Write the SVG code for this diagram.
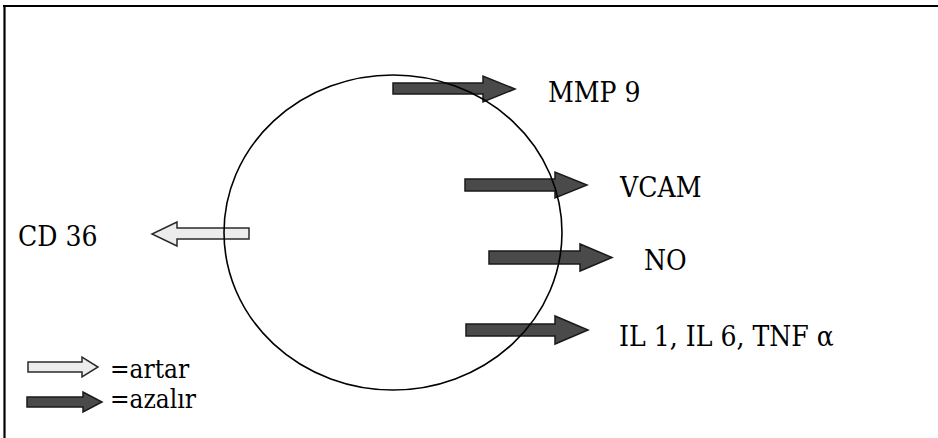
<svg xmlns="http://www.w3.org/2000/svg" width="938" height="438" viewBox="0 0 938 438">
<style>
text{font-family:"DejaVu Serif Condensed","DejaVu Serif",serif;font-stretch:condensed;font-size:28px;fill:#000}
.lg{font-size:26px}
.dark{fill:#4a4a4a;stroke:#1a1a1a;stroke-width:1.5}
.light{fill:#ececec;stroke:#2a2a2a;stroke-width:1.5}
.frame{stroke:#000;stroke-width:2.2;fill:none}
</style>
<rect width="938" height="438" fill="#fff"/>
<g id="frame">
<line class="frame" x1="3" y1="6" x2="938" y2="6"/>
<line class="frame" x1="4.5" y1="5" x2="4.5" y2="438"/>
</g>
<g id="connectors">
<polygon class="dark" points="393,83 483,83 483,76 515,89 483,102 483,94 393,94"/>
<polygon class="dark" points="465,179 555,179 555,172 587,185 555,198 555,191 465,191"/>
<polygon class="dark" points="489,251 580,251 580,244 612,257.5 580,271 580,264 489,264"/>
<polygon class="dark" points="466,324 555,324 555,316 588,330 555,344 555,336 466,336"/>
<polygon class="light" points="249,228 177,228 177,222 152,234 177,246 177,239 249,239"/>
</g>
<g id="cell">
<ellipse cx="393" cy="232.5" rx="169" ry="157.5" fill="none" stroke="#000" stroke-width="1.6"/>
</g>
<g id="label-mmp9"><text x="548" y="102">MMP 9</text></g>
<g id="label-vcam"><text x="620" y="197">VCAM</text></g>
<g id="label-no"><text x="644" y="270">NO</text></g>
<g id="label-il"><text x="619" y="346">IL 1, IL 6, TNF α</text></g>
<g id="label-cd36"><text x="18" y="246">CD 36</text></g>
<g id="legend">
<polygon class="light" points="28,362 82,362 82,357 98,367 82,377 82,372 28,372"/>
<text class="lg" x="110" y="378">=artar</text>
<polygon class="dark" points="27,397 83,397 83,392 102,402 83,412 83,407 27,407"/>
<text class="lg" x="110" y="408">=azalır</text>
</g>
</svg>
